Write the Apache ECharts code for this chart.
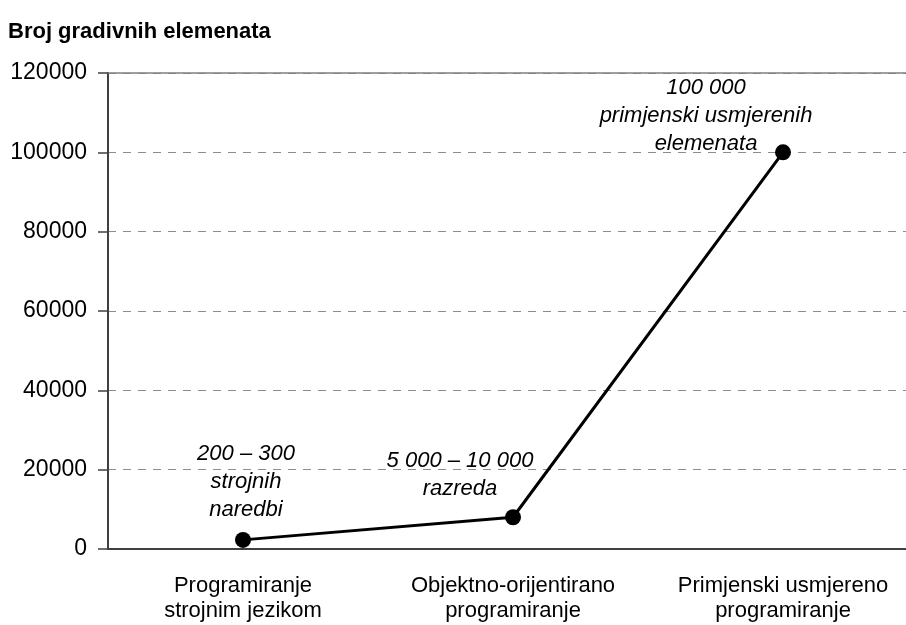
<!DOCTYPE html>
<html>
<head>
<meta charset="utf-8">
<script src="https://cdn.jsdelivr.net/npm/echarts@6/dist/echarts.min.js"></script>
<style>
  html, body { margin: 0; padding: 0; background: #fff; overflow: hidden; }
  #chart { width: 918px; height: 625px; }
</style>
</head>
<body>
<div id="chart"></div>
<script>
// podaci s grafa
const categories = ['Programiranje\nstrojnim jezikom', 'Objektno-orijentirano\nprogramiranje', 'Primjenski usmjereno\nprogramiranje'];
const values = [2300, 8000, 100000];
const pointLabels = ['200 – 300\nstrojnih\nnaredbi', '5 000 – 10 000\nrazreda', '100 000\nprimjenski usmjerenih\nelemenata'];
const yTicks = [0, 20000, 40000, 60000, 80000, 100000, 120000];

const font = '"Liberation Sans", Arial, sans-serif';

// pomaci oznaka (x, y) u pikselima
const labelOffsets = [[3, -3], [-53, -1], [-77, 19]];

const chart = echarts.init(document.getElementById('chart'));

chart.setOption({
    animation: false,
    textStyle: { fontFamily: font },
    title: {
        text: 'Broj gradivnih elemenata',
        left: 3,
        top: 16,
        textStyle: { fontFamily: font, fontSize: 22, fontWeight: 'bold', color: '#000' }
    },
    grid: { left: 108, top: 73, width: 810, height: 476, containLabel: false },
    xAxis: [{
        type: 'category',
        data: categories,
        boundaryGap: true,
        axisLine: { lineStyle: { color: '#404040', width: 2 } },
        axisTick: { show: false },
        axisLabel: { color: '#000', fontSize: 22, fontFamily: font, margin: 24, lineHeight: 25, interval: 0 }
    }, {
        type: 'category',
        position: 'top',
        data: categories,
        axisLine: { show: true, onZero: false, lineStyle: { color: '#808080', width: 1.5 } },
        axisTick: { show: false },
        axisLabel: { show: false }
    }],
    yAxis: {
        type: 'value',
        min: yTicks[0],
        max: yTicks[yTicks.length - 1],
        interval: 20000,
        axisLine: { show: true, lineStyle: { color: '#404040', width: 2 } },
        axisTick: { show: true, length: 10, lineStyle: { color: '#404040', width: 1.5 } },
        axisLabel: { color: '#000', fontSize: 23, fontFamily: font, margin: 21, formatter: v => String(v) },
        splitLine: { show: true, lineStyle: { color: '#8c8c8c', type: [8, 7], width: 1 } }
    },
    series: [{
        type: 'line',
        data: values.map((v, i) => ({
            value: v,
            label: {
                show: true,
                position: 'top',
                offset: labelOffsets[i],
                formatter: pointLabels[i],
                fontStyle: 'italic',
                fontSize: 22,
                lineHeight: 28,
                fontFamily: font,
                color: '#000',
                align: 'center'
            }
        })),
        symbol: 'circle',
        symbolSize: 16,
        lineStyle: { color: '#000', width: 3 },
        itemStyle: { color: '#000' }
    }]
});
</script>
</body>
</html>
